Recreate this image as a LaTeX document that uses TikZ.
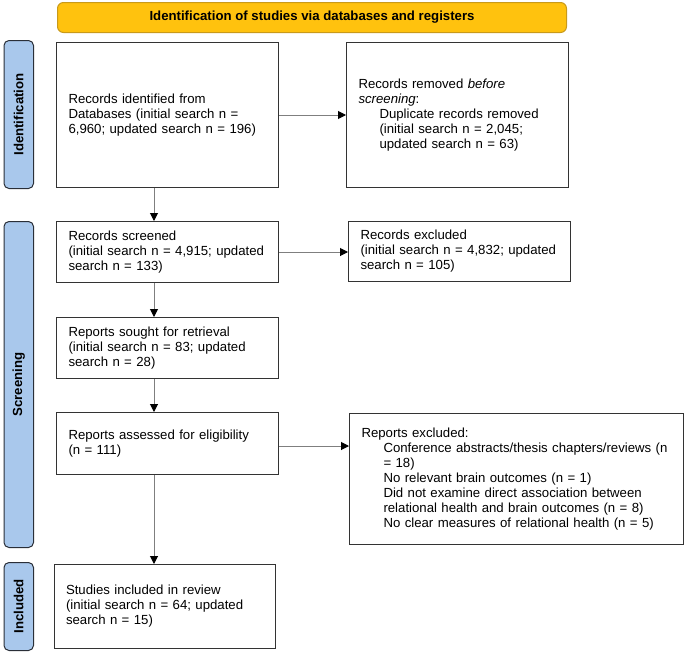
\documentclass[tikz,border=0pt]{standalone}
\usepackage{fontspec}
\setmainfont{Liberation Sans}
\usetikzlibrary{arrows.meta}
\definecolor{bannerfill}{HTML}{FFC20E}
\definecolor{bannerdraw}{HTML}{C99A1A}
\definecolor{sidefill}{HTML}{A9C8EC}
\definecolor{sidedraw}{HTML}{2A2F38}
\definecolor{boxdraw}{HTML}{333333}
\definecolor{conncol}{HTML}{7F7F7F}
\begin{document}
\begin{tikzpicture}[x=1pt,y=-1pt,
  txt/.style={font=\fontsize{13.2}{15}\selectfont},
  flowbox/.style={draw=boxdraw, line width=1pt, fill=white, anchor=north west,
    inner xsep=12pt, inner ysep=0pt, align=left, txt},
  banner/.style={draw=bannerdraw, line width=1pt, fill=bannerfill, rounded corners=6pt,
    anchor=north west, inner sep=0pt, font=\bfseries\fontsize{13.2}{15}\selectfont},
  sidelab/.style={draw=sidedraw, line width=1pt, fill=sidefill, rounded corners=5pt,
    anchor=north west, inner sep=0pt, minimum width=29.5pt},
  sidetxt/.style={rotate=90, font=\bfseries\fontsize{13.2}{15}\selectfont},
  conn/.style={draw=conncol, line width=1pt, -{Triangle[length=8pt,width=8pt,color=black]}}
]
\useasboundingbox (0,0) rectangle (685,653);

% banner
\node[banner, minimum width=509pt, minimum height=30pt] (ban) at (57,2)
  {Identification of studies via databases and registers};

% side labels
\node[sidelab, minimum height=148pt] (sid) at (3.5,40) {};
\node[sidetxt] (sidt) at (sid.center) {Identification};
\node[sidelab, minimum height=326pt] (sscr) at (3.5,221) {};
\node[sidetxt] (sscrt) at (sscr.center) {Screening};
\node[sidelab, minimum height=88pt] (sinc) at (3.5,562) {};
\node[sidetxt] (sinct) at (sinc.center) {Included};

% boxes
\node[flowbox, text width=198pt, minimum height=145pt] (b1) at (56,42)
  {Records identified from\\Databases (initial search n =\\6,960; updated search n = 196)};
\node[flowbox, text width=198pt, minimum height=145pt] (b2) at (346,42)
  {Records removed \textit{before}\\\textit{screening}:\\
   \hspace*{21pt}Duplicate records removed\\
   \hspace*{21pt}(initial search n = 2,045;\\
   \hspace*{21pt}updated search n = 63)};
\node[flowbox, text width=198pt, minimum height=61pt] (b3) at (56,221)
  {Records screened\\(initial search n = 4,915; updated\\search n = 133)};
\node[flowbox, text width=198pt, minimum height=60pt] (b4) at (348,221)
  {Records excluded\\(initial search n = 4,832; updated\\search n = 105)};
\node[flowbox, text width=198pt, minimum height=61pt] (b5) at (56,317)
  {Reports sought for retrieval\\(initial search n = 83; updated\\search n = 28)};
\node[flowbox, text width=198pt, minimum height=62pt] (b6) at (56,412)
  {Reports assessed for eligibility\\(n = 111)};
\node[flowbox, text width=310pt, minimum height=131pt] (b7) at (349,413)
  {Reports excluded:\\
   \hspace*{22pt}Conference abstracts/thesis chapters/reviews (n\\
   \hspace*{22pt}= 18)\\
   \hspace*{22pt}No relevant brain outcomes (n = 1)\\
   \hspace*{22pt}Did not examine direct association between\\
   \hspace*{22pt}relational health and brain outcomes (n = 8)\\
   \hspace*{22pt}No clear measures of relational health (n = 5)};
\node[flowbox, text width=197.5pt, minimum height=84pt] (b8) at (53.5,564)
  {Studies included in review\\(initial search n = 64; updated\\search n = 15)};

% connectors
\coordinate (vx) at (154,0);
\draw[conn] (b1.south -| vx) -- (b3.north -| vx);
\draw[conn] (b3.south -| vx) -- (b5.north -| vx);
\draw[conn] (b5.south -| vx) -- (b6.north -| vx);
\draw[conn] (b6.south -| vx) -- (b8.north -| vx);
\draw[conn] (b1.east) -- (b1.east -| b2.west);
\draw[conn] (b3.east) -- (b3.east -| b4.west);
\coordinate (hy) at (0,446);
\draw[conn] (b6.east |- hy) -- (b7.west |- hy);
\end{tikzpicture}
\end{document}
